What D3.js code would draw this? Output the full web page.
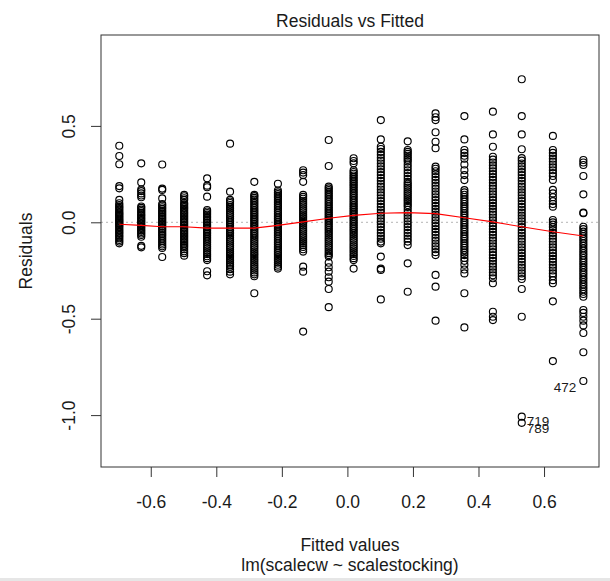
<!DOCTYPE html>
<html><head><meta charset="utf-8">
<script src="https://cdn.jsdelivr.net/npm/d3@7/dist/d3.min.js"></script>
<style>
html,body{margin:0;padding:0;background:#fff;}
text{font-family:"Liberation Sans",Arial,sans-serif;fill:#1a1a1a;}
</style></head>
<body>
<svg id="chart" width="610" height="581"></svg>
<script>
// ---- data ----
const fitted = [-0.696,-0.629,-0.565,-0.498,-0.428,-0.358,-0.284,-0.212,-0.135,-0.057,0.019,0.102,0.184,0.269,0.357,0.444,0.532,0.627,0.720];
const col01 = [0.397,0.344,0.301,0.188,0.176,0.116,0.099,0.09,0.082,0.075,0.068,0.06,0.052,0.046,0.04,0.033,0.027,0.02,0.014,0.008,0.003,-0.003,-0.009,-0.015,-0.022,-0.03,-0.038,-0.045,-0.053,-0.06,-0.068,-0.075,-0.083,-0.092,-0.1,-0.109];
const col02 = [0.306,0.207,0.17,0.162,0.15,0.139,0.13,0.082,0.075,0.066,0.058,0.049,0.041,0.034,0.026,0.018,0.011,0.004,-0.004,-0.012,-0.02,-0.027,-0.035,-0.043,-0.05,-0.058,-0.066,-0.075,-0.122,-0.13];
const col03 = [0.30,0.175,0.168,0.124,0.095,0.087,0.078,0.07,0.061,0.053,0.045,0.037,0.028,0.02,0.012,0.004,-0.004,-0.012,-0.02,-0.029,-0.037,-0.045,-0.054,-0.062,-0.07,-0.079,-0.088,-0.097,-0.106,-0.115,-0.124,-0.133,-0.18];
const col04 = [0.142,0.135,0.125,0.116,0.1,0.093,0.085,0.077,0.07,0.062,0.054,0.046,0.038,0.03,0.022,0.014,0.006,-0.002,-0.01,-0.018,-0.026,-0.034,-0.042,-0.05,-0.058,-0.066,-0.074,-0.082,-0.09,-0.098,-0.106,-0.114,-0.122,-0.13,-0.14,-0.15,-0.16,-0.173];
const col05 = [0.228,0.19,0.182,0.133,0.064,0.056,0.048,0.04,0.032,0.023,0.015,0.007,-0.001,-0.01,-0.018,-0.026,-0.035,-0.043,-0.052,-0.06,-0.069,-0.078,-0.087,-0.096,-0.105,-0.115,-0.125,-0.135,-0.145,-0.155,-0.165,-0.176,-0.186,-0.196,-0.254,-0.275];
const col06 = [0.408,0.159,0.116,0.108,0.1,0.09,0.08,0.07,0.06,0.05,0.04,0.03,0.021,0.012,0.003,-0.006,-0.015,-0.024,-0.033,-0.042,-0.051,-0.06,-0.07,-0.08,-0.09,-0.1,-0.11,-0.12,-0.13,-0.14,-0.15,-0.16,-0.17,-0.18,-0.19,-0.2,-0.21,-0.22,-0.23,-0.243,-0.256,-0.27];
const col07 = [0.21,0.142,0.136,0.127,0.118,0.109,0.1,0.091,0.082,0.073,0.064,0.055,0.046,0.037,0.028,0.019,0.01,0.001,-0.008,-0.017,-0.026,-0.035,-0.044,-0.053,-0.062,-0.071,-0.08,-0.09,-0.1,-0.11,-0.12,-0.13,-0.14,-0.15,-0.16,-0.17,-0.18,-0.19,-0.2,-0.21,-0.22,-0.23,-0.24,-0.25,-0.26,-0.27,-0.28,-0.368];
const col08 = [0.2,0.165,0.155,0.146,0.137,0.128,0.119,0.11,0.101,0.092,0.083,0.074,0.065,0.056,0.047,0.038,0.029,0.02,0.011,0.002,-0.007,-0.016,-0.025,-0.034,-0.043,-0.052,-0.061,-0.07,-0.079,-0.088,-0.097,-0.106,-0.115,-0.124,-0.133,-0.142,-0.151,-0.16,-0.17,-0.18,-0.19,-0.2,-0.21,-0.22,-0.23,-0.24];
const col09 = [0.27,0.258,0.245,0.21,0.142,0.132,0.122,0.112,0.102,0.092,0.082,0.072,0.062,0.052,0.042,0.032,0.022,0.012,0.002,-0.008,-0.018,-0.028,-0.038,-0.048,-0.058,-0.068,-0.078,-0.088,-0.098,-0.108,-0.118,-0.128,-0.14,-0.152,-0.23,-0.256,-0.567];
const col10 = [0.427,0.292,0.185,0.176,0.167,0.158,0.149,0.14,0.131,0.122,0.113,0.104,0.095,0.086,0.077,0.068,0.059,0.05,0.041,0.032,0.023,0.014,0.005,-0.004,-0.013,-0.022,-0.031,-0.04,-0.05,-0.06,-0.07,-0.08,-0.09,-0.1,-0.11,-0.12,-0.13,-0.14,-0.15,-0.16,-0.17,-0.178,-0.21,-0.233,-0.256,-0.285,-0.308,-0.346,-0.44];
const col11 = [0.332,0.318,0.306,0.27,0.261,0.252,0.243,0.234,0.225,0.216,0.207,0.198,0.189,0.18,0.171,0.162,0.153,0.144,0.135,0.126,0.117,0.108,0.099,0.09,0.081,0.072,0.063,0.054,0.045,0.036,0.027,0.018,0.009,0,-0.009,-0.018,-0.027,-0.036,-0.045,-0.055,-0.065,-0.075,-0.085,-0.095,-0.105,-0.115,-0.125,-0.135,-0.145,-0.155,-0.165,-0.175,-0.186,-0.196,-0.24];
const col12 = [0.53,0.43,0.392,0.38,0.365,0.35,0.335,0.32,0.305,0.29,0.275,0.26,0.245,0.23,0.215,0.2,0.185,0.17,0.155,0.14,0.125,0.11,0.095,0.08,0.065,0.05,0.035,0.02,0.005,-0.01,-0.025,-0.04,-0.055,-0.07,-0.085,-0.1,-0.109,-0.178,-0.24,-0.247,-0.4];
const col13 = [0.42,0.375,0.365,0.355,0.345,0.335,0.325,0.315,0.3,0.285,0.27,0.255,0.24,0.225,0.21,0.2,0.19,0.18,0.17,0.16,0.15,0.14,0.13,0.12,0.11,0.1,0.09,0.08,0.065,0.05,0.035,0.02,0.005,-0.01,-0.025,-0.04,-0.055,-0.07,-0.085,-0.1,-0.118,-0.213,-0.36];
const col14 = [0.565,0.545,0.53,0.467,0.418,0.384,0.289,0.278,0.265,0.25,0.235,0.22,0.205,0.19,0.175,0.16,0.145,0.13,0.115,0.1,0.085,0.07,0.055,0.04,0.025,0.01,-0.005,-0.02,-0.035,-0.05,-0.065,-0.08,-0.095,-0.11,-0.125,-0.14,-0.155,-0.17,-0.273,-0.334,-0.51];
const col15 = [0.551,0.43,0.375,0.36,0.345,0.33,0.3,0.27,0.245,0.219,0.167,0.155,0.143,0.131,0.119,0.107,0.095,0.083,0.071,0.059,0.047,0.035,0.023,0.011,-0.001,-0.013,-0.025,-0.037,-0.049,-0.061,-0.073,-0.085,-0.097,-0.109,-0.121,-0.133,-0.145,-0.157,-0.17,-0.185,-0.2,-0.22,-0.245,-0.265,-0.368,-0.545];
const col16 = [0.574,0.456,0.392,0.34,0.325,0.31,0.295,0.28,0.265,0.25,0.235,0.22,0.205,0.19,0.175,0.16,0.145,0.13,0.115,0.1,0.085,0.07,0.055,0.04,0.025,0.01,-0.005,-0.02,-0.035,-0.05,-0.065,-0.08,-0.095,-0.11,-0.125,-0.14,-0.155,-0.17,-0.185,-0.2,-0.215,-0.23,-0.245,-0.26,-0.275,-0.29,-0.316,-0.464,-0.49,-0.507];
const col17 = [0.742,0.551,0.456,0.379,0.333,0.32,0.305,0.29,0.275,0.26,0.245,0.23,0.215,0.2,0.185,0.17,0.155,0.14,0.125,0.11,0.095,0.08,0.065,0.05,0.035,0.02,0.005,-0.01,-0.025,-0.04,-0.055,-0.07,-0.085,-0.1,-0.115,-0.13,-0.145,-0.16,-0.175,-0.19,-0.205,-0.22,-0.235,-0.25,-0.265,-0.28,-0.294,-0.346,-0.49,-1.008,-1.04];
const col18 = [0.448,0.375,0.36,0.345,0.33,0.315,0.3,0.285,0.27,0.255,0.24,0.22,0.168,0.15,0.13,0.11,0.095,0.081,0.012,0.0,-0.012,-0.025,-0.04,-0.055,-0.07,-0.085,-0.1,-0.115,-0.13,-0.145,-0.16,-0.175,-0.19,-0.205,-0.22,-0.235,-0.25,-0.265,-0.28,-0.3,-0.316,-0.41,-0.72];
const col19 = [0.323,0.31,0.297,0.24,0.145,0.05,0.047,-0.023,-0.035,-0.048,-0.06,-0.072,-0.085,-0.097,-0.11,-0.122,-0.135,-0.147,-0.16,-0.172,-0.185,-0.197,-0.21,-0.222,-0.235,-0.247,-0.26,-0.272,-0.285,-0.297,-0.31,-0.322,-0.335,-0.347,-0.36,-0.372,-0.386,-0.455,-0.47,-0.49,-0.51,-0.535,-0.574,-0.674,-0.823];
const residualColumns = [col01,col02,col03,col04,col05,col06,col07,col08,col09,col10,col11,col12,col13,col14,col15,col16,col17,col18,col19];
const smoothY = [-0.010,-0.016,-0.023,-0.023,-0.030,-0.030,-0.030,-0.016,0.002,0.021,0.036,0.047,0.050,0.045,0.024,0.002,-0.023,-0.049,-0.071];
const idLabels = ["472","719","789"];
const idFitted = [0.720,0.532,0.532];
const idResid = [-0.823,-1.008,-1.040];
const xTicks = [-0.6,-0.4,-0.2,0.0,0.2,0.4,0.6];
const xTickLabels = ["-0.6","-0.4","-0.2","0.0","0.2","0.4","0.6"];
const yTicks = [-1.0,-0.5,0.0,0.5];
const yTickLabels = ["-1.0","-0.5","0.0","0.5"];

// ---- layout ----
const L = 101, R = 599, T = 35, B = 467;
const svg = d3.select("#chart");
const x = d3.scaleLinear().domain([-0.7518, 0.7677]).range([L, R]);
const y = d3.scaleLinear().domain([-1.2692, 0.9715]).range([B, T]);
const ink = "#333";

// faint frame strip at bottom of the screenshot
svg.append("rect").attr("x", 0).attr("y", 578).attr("width", 610).attr("height", 3).attr("fill", "#e6e6e6");

// zero reference line
svg.append("line").attr("x1", L).attr("x2", R).attr("y1", y(0)).attr("y2", y(0))
  .attr("stroke", "#b4b4b4").attr("stroke-width", 1).attr("stroke-dasharray", "2,3");

// points
const pts = [];
residualColumns.forEach((col, i) => col.forEach(r => pts.push([fitted[i], r])));
svg.append("g").selectAll("circle").data(pts).join("circle")
  .attr("cx", d => x(d[0])).attr("cy", d => y(d[1])).attr("r", 3.5)
  .attr("fill", "none").attr("stroke", "#000").attr("stroke-width", 1.15);

// smooth line
svg.append("path").datum(fitted.map((f, i) => [f, smoothY[i]]))
  .attr("d", d3.line().x(d => x(d[0])).y(d => y(d[1])))
  .attr("fill", "none").attr("stroke", "#ff0000").attr("stroke-width", 1.1);

// id labels
idLabels.forEach((lab, i) => {
  const left = i === 0;
  svg.append("text")
    .attr("x", x(idFitted[i]) + (left ? -7 : 5))
    .attr("y", y(idResid[i]) + (left ? 11.5 : (i === 1 ? 9.5 : 10.5)))
    .attr("text-anchor", left ? "end" : "start")
    .style("font-size", "13.5px").text(lab);
});

// box
svg.append("rect").attr("x", L).attr("y", T).attr("width", R - L).attr("height", B - T)
  .attr("fill", "none").attr("stroke", ink).attr("stroke-width", 1);

// x axis
const gx = svg.append("g").attr("transform", `translate(0,${B})`)
  .call(d3.axisBottom(x).tickValues(xTicks).tickSize(10).tickFormat((d, i) => xTickLabels[i]));
gx.select(".domain").remove();
gx.selectAll(".tick line").attr("stroke", ink);
gx.selectAll(".tick text").attr("y", 41).attr("dy", 0)
  .style("font-size", "17.5px").attr("fill", "#1a1a1a").attr("font-family", null);

// y axis
const gy = svg.append("g").attr("transform", `translate(${L},0)`)
  .call(d3.axisLeft(y).tickValues(yTicks).tickSize(10).tickFormat((d, i) => yTickLabels[i]));
gy.select(".domain").remove();
gy.selectAll(".tick line").attr("stroke", ink);
gy.selectAll(".tick text").attr("x", null).attr("dy", 0).attr("text-anchor", "middle")
  .attr("transform", "translate(-26,0) rotate(-90)")
  .style("font-size", "17.5px").attr("fill", "#1a1a1a").attr("font-family", null);

// titles
svg.append("text").attr("x", (L + R) / 2).attr("y", 27).attr("text-anchor", "middle")
  .style("font-size", "17.5px").text("Residuals vs Fitted");
svg.append("text").attr("x", (L + R) / 2).attr("y", 551).attr("text-anchor", "middle")
  .style("font-size", "17.5px").text("Fitted values");
svg.append("text").attr("x", (L + R) / 2).attr("y", 571).attr("text-anchor", "middle")
  .style("font-size", "17.5px").text("lm(scalecw ~ scalestocking)");
svg.append("text").attr("transform", `translate(32,${(T + B) / 2}) rotate(-90)`)
  .attr("text-anchor", "middle").style("font-size", "17.5px").text("Residuals");
</script>
</body></html>
